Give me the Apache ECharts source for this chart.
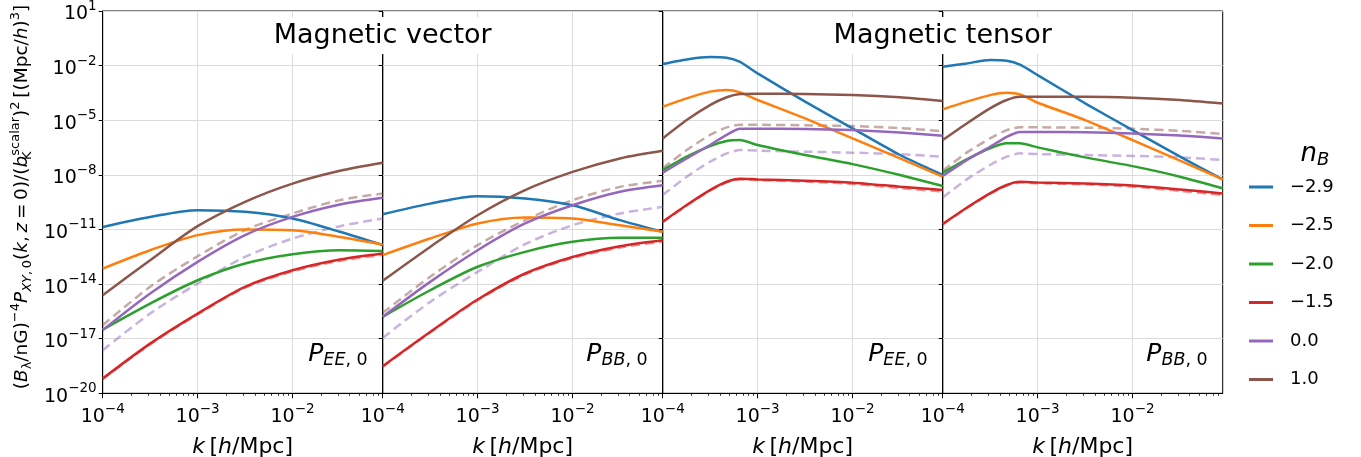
<!DOCTYPE html>
<html>
<head>
<meta charset="utf-8">
<script src="https://cdn.jsdelivr.net/npm/echarts@6/dist/echarts.min.js"></script>
<style>
  html, body { margin: 0; padding: 0; background: #fff; }
  #chart { width: 1361px; height: 457px; }
</style>
</head>
<body>
<div id="chart"></div>
<script>
// Magnetic-field induced E/B power spectra, four panels sharing one log y axis.
const nBLabels = ['\u22122.9', '\u22122.5', '\u22122.0', '\u22121.5', '0.0', '1.0'];
const lineColors = ['#1f77b4', '#ff7f0e', '#2ca02c', '#d62728', '#9467bd', '#8c564b'];
// n_B entries (index into nBLabels) that also have a dashed companion curve
const dashedOf = [3, 4, 5];

// wavenumbers k [h/Mpc]
const kVector = [1e-4, 3.16e-4, 1e-3, 3.16e-3, 1e-2, 3.16e-2, 0.089];
const kTensor = [1e-4, 1.79e-4, 3.15e-4, 4.72e-4, 6.52e-4, 1e-3, 3.16e-3, 1e-2, 3.16e-2, 0.089];

// log10 of the spectra; rows follow nBLabels order
const log10VectorEE = [
  [-10.86, -10.31, -9.94, -10.03, -10.40, -11.13, -11.86],
  [-13.15, -12.14, -11.31, -11.00, -11.04, -11.41, -11.83],
  [-16.50, -15.07, -13.79, -12.87, -12.36, -12.14, -12.18],
  [-19.19, -17.27, -15.62, -14.15, -13.24, -12.65, -12.32],
  [-16.53, -14.52, -12.78, -11.31, -10.31, -9.63, -9.26],
  [-14.61, -12.69, -10.82, -9.48, -8.48, -7.78, -7.34]
];
const log10VectorEEDashed = [
  [-19.22, -17.30, -15.66, -14.20, -13.30, -12.72, -12.40],
  [-17.63, -15.62, -13.97, -12.51, -11.50, -10.82, -10.40],
  [-16.26, -14.15, -12.47, -11.04, -10.12, -9.39, -9.03]
];
const log10VectorBB = [
  [-10.16, -9.58, -9.17, -9.30, -9.67, -10.49, -11.13],
  [-12.41, -11.50, -10.67, -10.34, -10.40, -10.77, -11.13],
  [-15.80, -14.34, -13.05, -12.23, -11.68, -11.46, -11.46],
  [-18.51, -16.63, -14.85, -13.42, -12.51, -11.92, -11.59],
  [-15.80, -13.88, -12.14, -10.67, -9.67, -8.93, -8.57],
  [-13.82, -11.96, -10.22, -8.84, -7.84, -7.10, -6.68]
];
const log10VectorBBDashed = [
  [-18.54, -16.66, -14.89, -13.47, -12.57, -11.99, -11.67],
  [-16.96, -14.98, -13.33, -11.81, -10.77, -10.12, -9.76],
  [-15.58, -13.60, -11.86, -10.49, -9.39, -8.66, -8.33]
];
const log10TensorEE = [
  [-1.91, -1.66, -1.53, -1.57, -1.80, -2.43, -3.98, -5.45, -6.91, -8.01],
  [-4.26, -3.80, -3.43, -3.34, -3.47, -3.89, -4.90, -6.00, -7.10, -8.10],
  [-7.74, -7.00, -6.42, -6.14, -6.09, -6.36, -6.91, -7.41, -8.01, -8.61],
  [-10.58, -9.66, -8.84, -8.38, -8.21, -8.25, -8.32, -8.43, -8.65, -8.83],
  [-7.88, -7.10, -6.36, -5.80, -5.47, -5.47, -5.48, -5.54, -5.67, -5.85],
  [-6.00, -4.99, -4.17, -3.74, -3.56, -3.54, -3.56, -3.61, -3.74, -3.94]
];
const log10TensorEEDashed = [
  [-10.60, -9.68, -8.86, -8.41, -8.25, -8.29, -8.37, -8.50, -8.73, -8.92],
  [-9.11, -8.10, -7.28, -6.82, -6.64, -6.67, -6.73, -6.78, -6.87, -7.00],
  [-7.64, -6.64, -5.81, -5.39, -5.25, -5.25, -5.28, -5.32, -5.43, -5.60]
];
const log10TensorBB = [
  [-2.06, -1.88, -1.69, -1.73, -1.95, -2.52, -4.07, -5.54, -7.00, -8.25],
  [-4.40, -3.98, -3.62, -3.49, -3.58, -4.04, -4.99, -6.09, -7.22, -8.25],
  [-7.88, -7.15, -6.54, -6.27, -6.27, -6.49, -7.04, -7.52, -8.10, -8.74],
  [-10.70, -9.81, -9.02, -8.56, -8.38, -8.42, -8.47, -8.58, -8.80, -9.02],
  [-8.06, -7.19, -6.46, -5.91, -5.64, -5.64, -5.66, -5.73, -5.84, -6.00],
  [-6.09, -5.18, -4.35, -3.89, -3.71, -3.71, -3.71, -3.76, -3.89, -4.08]
];
const log10TensorBBDashed = [
  [-10.72, -9.83, -9.04, -8.59, -8.42, -8.46, -8.52, -8.65, -8.88, -9.11],
  [-9.24, -8.25, -7.46, -7.00, -6.82, -6.86, -6.91, -6.96, -7.04, -7.18],
  [-7.77, -6.78, -6.00, -5.54, -5.39, -5.39, -5.41, -5.47, -5.58, -5.76]
];

// axis ticks
const xMajorTicks = [1e-4, 1e-3, 1e-2];
const xMinorTicks = [2e-4, 3e-4, 4e-4, 5e-4, 6e-4, 7e-4, 8e-4, 9e-4,
  2e-3, 3e-3, 4e-3, 5e-3, 6e-3, 7e-3, 8e-3, 9e-3,
  2e-2, 3e-2, 4e-2, 5e-2, 6e-2, 7e-2, 8e-2];
const yTicks = [1e-20, 1e-17, 1e-14, 1e-11, 1e-8, 1e-5, 1e-2, 1e1];
const xMin = 1e-4, xMax = 0.089, yMin = 1e-20, yMax = 10;

const panels = [
  { k: kVector, solid: log10VectorEE, dashed: log10VectorEEDashed, sub: 'EE', smooth: 0.3 },
  { k: kVector, solid: log10VectorBB, dashed: log10VectorBBDashed, sub: 'BB', smooth: 0.3 },
  { k: kTensor, solid: log10TensorEE, dashed: log10TensorEEDashed, sub: 'EE', smooth: 0.2 },
  { k: kTensor, solid: log10TensorBB, dashed: log10TensorBBDashed, sub: 'BB', smooth: 0.2 }
];

const FONT = 'DejaVu Sans';
const PLOT_LEFT = 102.7, PANEL_W = 280, PLOT_TOP = 11, PLOT_H = 382.3;

function powLabel(v) {
  const e = Math.round(Math.log10(v));
  return '{b|10}{s|' + (e < 0 ? '\u2212' + (-e) : String(e)) + '}';
}
const powRich = {
  b: { fontFamily: FONT, fontSize: 19, color: '#000' },
  s: { fontFamily: FONT, fontSize: 13.5, color: '#000', padding: [0, 0, 16, 0] }
};
const gridLineStyle = { color: '#dcdcdc', width: 1 };

const grids = [], xAxes = [], yAxes = [], series = [];
panels.forEach((p, i) => {
  grids.push({
    left: PLOT_LEFT + i * PANEL_W, top: PLOT_TOP, width: PANEL_W, height: PLOT_H,
    show: true, borderColor: '#000', borderWidth: 1, backgroundColor: 'transparent',
    containLabel: false, outerBoundsMode: 'none'
  });
  xAxes.push({
    type: 'log', logBase: 10, gridIndex: i, min: xMin, max: xMax, interval: 1, position: 'bottom',
    axisLine: { show: true, lineStyle: { color: '#000', width: 1 } },
    axisTick: { show: true, length: 5, customValues: xMajorTicks, lineStyle: { color: '#000', width: 1 } },
    axisLabel: { show: true, customValues: xMajorTicks, formatter: powLabel, rich: powRich, margin: 9 },
    splitLine: { show: true, lineStyle: gridLineStyle },
    name: '{i|k}\u2009[{i|h}/Mpc]', nameLocation: 'middle', nameGap: 43,
    nameTextStyle: { fontFamily: FONT, fontSize: 22, color: '#000', verticalAlign: 'top',
      rich: { i: { fontFamily: FONT, fontSize: 22, fontStyle: 'italic', color: '#000' } } }
  });
  yAxes.push({
    type: 'log', logBase: 10, gridIndex: i, min: yMin, max: yMax, interval: 3,
    axisLine: { show: true, lineStyle: { color: '#000', width: 1 } },
    axisTick: { show: true, length: 4, customValues: yTicks, lineStyle: { color: '#000', width: 1 } },
    axisLabel: { show: i === 0, customValues: yTicks, formatter: powLabel, rich: powRich, margin: 6,
      padding: [7, 0, 0, 0] },
    splitLine: { show: true, lineStyle: gridLineStyle }
  });
});
// minor ticks on each k axis
panels.forEach((p, i) => {
  xAxes.push({
    type: 'log', logBase: 10, gridIndex: i, min: xMin, max: xMax, position: 'bottom',
    axisLine: { show: false }, axisLabel: { show: false }, splitLine: { show: false },
    axisTick: { show: true, length: 2.5, customValues: xMinorTicks, lineStyle: { color: '#000', width: 0.8 } }
  });
});

panels.forEach((p, i) => {
  p.dashed.forEach((row, d) => {
    const j = dashedOf[d];
    series.push({
      type: 'line', name: 'dashed ' + nBLabels[j], xAxisIndex: i, yAxisIndex: i,
      data: p.k.map((k, m) => [k, Math.pow(10, row[m])]),
      showSymbol: false, smooth: p.smooth, z: 2, silent: true,
      lineStyle: { color: lineColors[j], opacity: 0.5, width: 2.5, type: [9, 5] },
      itemStyle: { color: lineColors[j] }
    });
  });
  p.solid.forEach((row, j) => {
    series.push({
      type: 'line', name: nBLabels[j], xAxisIndex: i, yAxisIndex: i,
      data: p.k.map((k, m) => [k, Math.pow(10, row[m])]),
      showSymbol: false, smooth: p.smooth, z: 3, silent: true,
      lineStyle: { color: lineColors[j], width: 2.5 },
      itemStyle: { color: lineColors[j] }
    });
  });
});

const graphics = [];
// section titles with white boxes
[['Magnetic vector', PLOT_LEFT + PANEL_W], ['Magnetic tensor', PLOT_LEFT + 3 * PANEL_W]].forEach(([t, cx]) => {
  graphics.push({
    type: 'text', x: cx, y: 35.5, z: 100,
    style: { text: t, font: '27px "' + FONT + '"', fill: '#000', align: 'center', verticalAlign: 'middle',
      backgroundColor: '#fff', padding: [5, 10, 5, 10] }
  });
});
// panel spectrum labels
panels.forEach((p, i) => {
  graphics.push({
    type: 'text', x: PLOT_LEFT + (i + 1) * PANEL_W - 15, y: 354, z: 100,
    style: {
      text: '{p|P}{si|' + p.sub + '}{s|, 0}', align: 'right', verticalAlign: 'middle',
      rich: {
        p: { fontFamily: FONT, fontSize: 25, fontStyle: 'italic', fill: '#000' },
        si: { fontFamily: FONT, fontSize: 17.5, fontStyle: 'italic', fill: '#000', padding: [12, 0, 0, 0] },
        s: { fontFamily: FONT, fontSize: 17.5, fill: '#000', padding: [12, 0, 0, 0] }
      }
    }
  });
});
// y axis title
graphics.push({
  type: 'text', x: 22.5, y: 197, rotation: Math.PI / 2, z: 100,
  style: {
    text: '({i|B}{sub|\u03bb}/nG){sup|\u22124}{i|P}{subi|XY}{sub|,\u20090}({i|k},\u2009{i|z}\u2009=\u20090)/({i|b}{subK|K}{sup|scalar}){sup|2}\u2009[(Mpc/{i|h}){sup|3}]',
    align: 'center', verticalAlign: 'middle', fontFamily: FONT, fontSize: 18.5, fill: '#000',
    rich: {
      i: { fontFamily: FONT, fontSize: 18.5, fontStyle: 'italic', fill: '#000' },
      sub: { fontFamily: FONT, fontSize: 13, fill: '#000', padding: [10, 0, 0, 0] },
      subi: { fontFamily: FONT, fontSize: 13, fontStyle: 'italic', fill: '#000', padding: [10, 0, 0, 0] },
      subK: { fontFamily: FONT, fontSize: 13, fill: '#000', padding: [10, 0, 0, 0], width: 0 },
      sup: { fontFamily: FONT, fontSize: 13, fill: '#000', padding: [0, 0, 14, 0] }
    }
  }
});
// legend title
graphics.push({
  type: 'text', x: 1315, y: 154, z: 100,
  style: {
    text: '{n|n}{b|B}', align: 'center', verticalAlign: 'middle',
    rich: {
      n: { fontFamily: FONT, fontSize: 26, fontStyle: 'italic', fill: '#000' },
      b: { fontFamily: FONT, fontSize: 18, fontStyle: 'italic', fill: '#000', padding: [12, 0, 0, 0] }
    }
  }
});

const chart = echarts.init(document.getElementById('chart'), null, { renderer: 'canvas' });
chart.setOption({
  animation: false,
  backgroundColor: '#fff',
  grid: grids,
  xAxis: xAxes,
  yAxis: yAxes,
  series: series,
  legend: {
    data: nBLabels, orient: 'vertical', left: 1249, top: 177, padding: 0,
    icon: 'rect', itemWidth: 24, itemHeight: 3, itemGap: 18.5, selectedMode: false,
    textStyle: { fontFamily: FONT, fontSize: 18, color: '#000', lineHeight: 20, padding: [0, 0, 0, 12] }
  },
  graphic: graphics
});
</script>
</body>
</html>
